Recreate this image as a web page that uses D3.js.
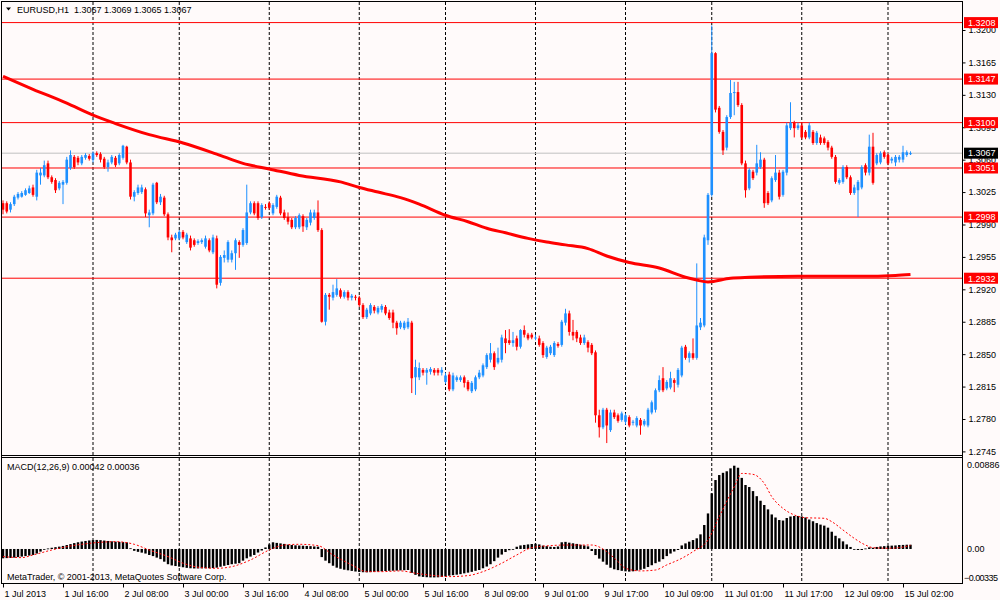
<!DOCTYPE html>
<html>
<head>
    <meta charset="utf-8">
    <title>EURUSD,H1</title>
    <script src="https://d3js.org/d3.v7.min.js"></script>
    <style>
        body { margin: 0; background: #fffafa; }
        svg { display: block; font-family: "Liberation Sans", Arial, sans-serif; }
    </style>
</head>
<body>
<svg id="chart" width="1000" height="600"></svg>

<script>
    // hourly bars, 1 Jul 2013 00:00 .. 15 Jul 2013
    var open = [
        1.3013,1.3013,1.3006,1.3012,1.3019,1.3020,1.3022,1.3024,1.3030,1.3020,
        1.3043,1.3043,1.3056,1.3041,1.3038,1.3029,1.3033,1.3035,1.3051,1.3063,
        1.3062,1.3056,1.3062,1.3064,1.3060,1.3067,1.3066,1.3061,1.3052,1.3057,
        1.3062,1.3056,1.3062,1.3074,1.3057,1.3020,1.3024,1.3025,1.3028,1.3000,
        1.3002,1.3035,1.3014,1.3019,1.3001,1.2976,1.2975,1.2975,1.2982,1.2971,
        1.2975,1.2973,1.2970,1.2971,1.2966,1.2973,1.2960,1.2975,1.2927,1.2954,
        1.2952,1.2952,1.2959,1.2971,1.2968,1.2970,1.3003,1.3013,1.3013,1.2998,
        1.3009,1.3013,1.3002,1.3009,1.3019,1.3003,1.2998,1.2995,1.2987,1.2987,
        1.2999,1.2987,1.2992,1.2997,1.3003,1.2984,1.2885,1.2914,1.2911,1.2914,
        1.2919,1.2912,1.2917,1.2911,1.2912,1.2911,1.2903,1.2890,1.2894,1.2901,
        1.2895,1.2898,1.2901,1.2895,1.2895,1.2884,1.2879,1.2878,1.2879,1.2884,
        1.2825,1.2825,1.2833,1.2830,1.2831,1.2833,1.2833,1.2830,1.2820,1.2828,
        1.2812,1.2822,1.2822,1.2825,1.2820,1.2810,1.2812,1.2825,1.2827,1.2836,
        1.2844,1.2851,1.2841,1.2844,1.2867,1.2865,1.2862,1.2867,1.2858,1.2876,
        1.2871,1.2871,1.2867,1.2867,1.2862,1.2847,1.2851,1.2849,1.2861,1.2860,
        1.2884,1.2894,1.2874,1.2874,1.2868,1.2862,1.2863,1.2860,1.2852,1.2784,
        1.2771,1.2790,1.2768,1.2787,1.2784,1.2779,1.2777,1.2782,1.2776,1.2773,
        1.2779,1.2774,1.2773,1.2787,1.2790,1.2811,1.2824,1.2813,1.2814,1.2822,
        1.2817,1.2827,1.2858,1.2846,1.2851,1.2846,1.2879,1.2881,1.2973,1.3022,
        1.3175,1.3116,1.3090,1.3073,1.3106,1.3132,1.3133,1.3119,1.3056,1.3029,
        1.3047,1.3046,1.3052,1.3060,1.3024,1.3016,1.3038,1.3046,1.3022,1.3046,
        1.3094,1.3100,1.3094,1.3097,1.3090,1.3084,1.3090,1.3078,1.3084,1.3083,
        1.3079,1.3073,1.3063,1.3035,1.3036,1.3052,1.3041,1.3024,1.3027,1.3030,
        1.3054,1.3046,1.3074,1.3056,1.3057,1.3068,1.3065,1.3059,1.3057,1.3060,
        1.3060,1.3065,1.3067
    ];
    var high = [
        1.3016,1.3015,1.3014,1.3022,1.3025,1.3026,1.3029,1.3032,1.3033,1.3049,
        1.3051,1.3059,1.3059,1.3043,1.3040,1.3037,1.3038,1.3063,1.3070,1.3065,
        1.3064,1.3065,1.3067,1.3066,1.3069,1.3069,1.3068,1.3063,1.3060,1.3065,
        1.3064,1.3067,1.3076,1.3075,1.3060,1.3027,1.3033,1.3033,1.3030,1.3006,
        1.3035,1.3036,1.3023,1.3021,1.3003,1.2979,1.2981,1.2984,1.2984,1.2981,
        1.2978,1.2975,1.2974,1.2975,1.2978,1.2975,1.2979,1.2978,1.2957,1.2962,
        1.2973,1.2962,1.2975,1.2973,1.2986,1.3033,1.3015,1.3015,1.3015,1.3013,
        1.3012,1.3015,1.3013,1.3022,1.3021,1.3006,1.3003,1.2997,1.2999,1.3002,
        1.3001,1.2997,1.3006,1.3006,1.3016,1.2986,1.2916,1.2916,1.2925,1.2931,
        1.2921,1.2919,1.2919,1.2915,1.2914,1.2913,1.2905,1.2900,1.2905,1.2903,
        1.2902,1.2904,1.2903,1.2898,1.2898,1.2886,1.2886,1.2886,1.2889,1.2886,
        1.2844,1.2841,1.2835,1.2835,1.2836,1.2835,1.2835,1.2836,1.2830,1.2831,
        1.2830,1.2827,1.2827,1.2827,1.2822,1.2821,1.2827,1.2833,1.2840,1.2851,
        1.2862,1.2853,1.2857,1.2871,1.2876,1.2877,1.2874,1.2870,1.2877,1.2881,
        1.2873,1.2873,1.2871,1.2870,1.2864,1.2859,1.2860,1.2864,1.2863,1.2887,
        1.2899,1.2897,1.2887,1.2876,1.2871,1.2871,1.2865,1.2862,1.2854,1.2790,
        1.2792,1.2792,1.2790,1.2790,1.2786,1.2788,1.2786,1.2784,1.2779,1.2783,
        1.2781,1.2780,1.2792,1.2800,1.2813,1.2827,1.2836,1.2822,1.2831,1.2824,
        1.2835,1.2859,1.2860,1.2853,1.2867,1.2948,1.2889,1.2979,1.3024,1.3205,
        1.3176,1.3118,1.3092,1.3108,1.3146,1.3144,1.3144,1.3121,1.3059,1.3051,
        1.3049,1.3076,1.3068,1.3062,1.3026,1.3042,1.3065,1.3049,1.3049,1.3100,
        1.3122,1.3102,1.3100,1.3100,1.3092,1.3100,1.3092,1.3091,1.3087,1.3085,
        1.3081,1.3075,1.3065,1.3040,1.3054,1.3054,1.3043,1.3033,1.3038,1.3054,
        1.3056,1.3087,1.3089,1.3067,1.3069,1.3070,1.3067,1.3063,1.3065,1.3065,
        1.3075,1.3070,1.3069
    ];
    var low = [
        1.3001,1.3002,1.3003,1.3010,1.3017,1.3019,1.3021,1.3023,1.3020,1.3016,
        1.3033,1.3041,1.3039,1.3034,1.3024,1.3027,1.3012,1.3033,1.3049,1.3050,
        1.3054,1.3054,1.3060,1.3059,1.3057,1.3063,1.3057,1.3050,1.3047,1.3055,
        1.3052,1.3054,1.3060,1.3055,1.3017,1.3015,1.3022,1.3023,1.2998,1.2987,
        1.3000,1.3012,1.3011,1.2999,1.2973,1.2960,1.2973,1.2973,1.2974,1.2969,
        1.2962,1.2966,1.2968,1.2969,1.2964,1.2960,1.2958,1.2921,1.2924,1.2949,
        1.2949,1.2949,1.2941,1.2954,1.2966,1.2968,1.3001,1.3000,1.2995,1.2996,
        1.3006,1.3006,1.3000,1.3007,1.3000,1.2995,1.2990,1.2985,1.2985,1.2985,
        1.2982,1.2984,1.2989,1.2995,1.2982,1.2884,1.2881,1.2898,1.2908,1.2912,
        1.2910,1.2910,1.2908,1.2908,1.2908,1.2901,1.2888,1.2888,1.2892,1.2894,
        1.2893,1.2895,1.2892,1.2887,1.2878,1.2871,1.2877,1.2876,1.2877,1.2808,
        1.2806,1.2822,1.2827,1.2817,1.2828,1.2827,1.2827,1.2827,1.2818,1.2810,
        1.2810,1.2820,1.2820,1.2814,1.2810,1.2808,1.2810,1.2823,1.2825,1.2834,
        1.2841,1.2833,1.2839,1.2841,1.2851,1.2860,1.2858,1.2854,1.2856,1.2868,
        1.2865,1.2866,1.2865,1.2858,1.2846,1.2845,1.2849,1.2847,1.2857,1.2858,
        1.2881,1.2870,1.2865,1.2863,1.2860,1.2860,1.2852,1.2849,1.2776,1.2760,
        1.2769,1.2754,1.2766,1.2780,1.2776,1.2777,1.2774,1.2771,1.2773,1.2771,
        1.2763,1.2772,1.2771,1.2785,1.2787,1.2809,1.2809,1.2811,1.2812,1.2809,
        1.2814,1.2825,1.2844,1.2841,1.2844,1.2844,1.2876,1.2879,1.2968,1.3020,
        1.3111,1.3088,1.3065,1.3070,1.3104,1.3108,1.3117,1.3054,1.3019,1.3027,
        1.3038,1.3043,1.3050,1.3008,1.3011,1.3014,1.3036,1.3017,1.3020,1.3043,
        1.3092,1.3084,1.3092,1.3082,1.3082,1.3082,1.3076,1.3076,1.3076,1.3076,
        1.3070,1.3061,1.3034,1.3033,1.3034,1.3039,1.3022,1.3022,1.2998,1.3028,
        1.3043,1.3043,1.3033,1.3054,1.3055,1.3061,1.3054,1.3056,1.3053,1.3057,
        1.3057,1.3063,1.3065
    ];
    var close = [
        1.3006,1.3004,1.3012,1.3020,1.3023,1.3024,1.3027,1.3029,1.3022,1.3046,
        1.3046,1.3054,1.3041,1.3036,1.3027,1.3035,1.3036,1.3060,1.3065,1.3052,
        1.3057,1.3063,1.3065,1.3061,1.3067,1.3065,1.3060,1.3052,1.3057,1.3063,
        1.3054,1.3065,1.3075,1.3057,1.3020,1.3025,1.3030,1.3030,1.3002,1.3003,
        1.3033,1.3014,1.3020,1.3001,1.2976,1.2973,1.2979,1.2982,1.2976,1.2979,
        1.2965,1.2968,1.2972,1.2973,1.2975,1.2962,1.2976,1.2925,1.2955,1.2957,
        1.2971,1.2959,1.2973,1.2968,1.2984,1.3003,1.3013,1.3002,1.2997,1.3011,
        1.3008,1.3008,1.3011,1.3020,1.3002,1.2997,1.2993,1.2987,1.2997,1.3000,
        1.2988,1.2995,1.3003,1.3003,1.2984,1.2885,1.2914,1.2912,1.2917,1.2921,
        1.2912,1.2917,1.2911,1.2913,1.2911,1.2903,1.2890,1.2898,1.2903,1.2897,
        1.2900,1.2902,1.2894,1.2889,1.2884,1.2878,1.2884,1.2884,1.2885,1.2824,
        1.2836,1.2835,1.2830,1.2833,1.2834,1.2830,1.2830,1.2833,1.2827,1.2812,
        1.2827,1.2825,1.2825,1.2819,1.2812,1.2819,1.2825,1.2830,1.2838,1.2849,
        1.2851,1.2836,1.2846,1.2868,1.2862,1.2862,1.2865,1.2858,1.2876,1.2871,
        1.2867,1.2868,1.2868,1.2860,1.2849,1.2857,1.2858,1.2862,1.2859,1.2885,
        1.2894,1.2874,1.2870,1.2867,1.2862,1.2868,1.2857,1.2851,1.2784,1.2771,
        1.2790,1.2773,1.2787,1.2782,1.2778,1.2786,1.2784,1.2773,1.2777,1.2781,
        1.2773,1.2778,1.2790,1.2798,1.2811,1.2822,1.2811,1.2820,1.2824,1.2819,
        1.2833,1.2857,1.2846,1.2851,1.2846,1.2881,1.2884,1.2976,1.3022,1.3175,
        1.3114,1.3090,1.3070,1.3106,1.3132,1.3133,1.3119,1.3056,1.3027,1.3049,
        1.3040,1.3056,1.3060,1.3013,1.3013,1.3040,1.3046,1.3020,1.3047,1.3097,
        1.3100,1.3094,1.3097,1.3084,1.3084,1.3097,1.3078,1.3089,1.3078,1.3078,
        1.3073,1.3063,1.3036,1.3038,1.3052,1.3041,1.3024,1.3030,1.3036,1.3052,
        1.3046,1.3074,1.3035,1.3065,1.3067,1.3063,1.3056,1.3061,1.3063,1.3063,
        1.3068,1.3068,1.3067
    ];

    // moving average read at some bars: [bar, price]
    var maPoints = [
        [0,1.3150],[8,1.3136],[17,1.3121],[24,1.3108],[30,1.3099],[39,1.3087],
        [48,1.3078],[57,1.3066],[64,1.3056],[71,1.3050],[79,1.3043],[90,1.3036],
        [95,1.3030],[100,1.3025],[106,1.3019],[111,1.3012],[118,1.3000],[124,1.2993],
        [129,1.2986],[134,1.2981],[140,1.2975],[145,1.2971],[150,1.2968],[156,1.2964],
        [161,1.2956],[167,1.2949],[175,1.2943],[182,1.2933],[185,1.2930],[188,1.2928],
        [194,1.2932],[199,1.2933],[212,1.2934],[229,1.2934],[238,1.2935],[242,1.2936]
    ];

    // MACD(12,26,9) main line, one per bar
    var macd = [
        -0.00092,-0.00090,-0.00088,-0.00085,-0.00080,-0.00075,-0.00070,-0.00065,-0.00059,-0.00045,
        -0.00026,-0.00005,0.00005,0.00012,0.00018,0.00023,0.00030,0.00039,0.00048,0.00058,
        0.00066,0.00073,0.00079,0.00084,0.00088,0.00089,0.00087,0.00083,0.00079,0.00075,
        0.00072,0.00070,0.00068,0.00065,0.00007,-0.00018,-0.00028,-0.00036,-0.00045,-0.00059,
        -0.00070,-0.00085,-0.00100,-0.00125,-0.00150,-0.00162,-0.00168,-0.00174,-0.00180,-0.00186,
        -0.00190,-0.00192,-0.00192,-0.00191,-0.00190,-0.00190,-0.00188,-0.00184,-0.00175,-0.00166,
        -0.00158,-0.00150,-0.00145,-0.00140,-0.00115,-0.00092,-0.00075,-0.00059,-0.00035,-0.00015,
        0.00015,0.00045,0.00066,0.00060,0.00055,0.00050,0.00043,0.00039,0.00036,0.00034,
        0.00032,0.00030,0.00028,0.00025,0.00023,-0.00080,-0.00115,-0.00140,-0.00165,-0.00184,
        -0.00195,-0.00204,-0.00210,-0.00216,-0.00222,-0.00226,-0.00229,-0.00230,-0.00228,-0.00225,
        -0.00222,-0.00220,-0.00217,-0.00215,-0.00214,-0.00213,-0.00211,-0.00209,-0.00207,-0.00235,
        -0.00255,-0.00270,-0.00275,-0.00278,-0.00280,-0.00280,-0.00279,-0.00276,-0.00270,-0.00263,
        -0.00258,-0.00253,-0.00248,-0.00240,-0.00233,-0.00225,-0.00215,-0.00207,-0.00190,-0.00173,
        -0.00150,-0.00120,-0.00085,-0.00055,-0.00030,-0.00012,0.00000,0.00022,0.00035,0.00040,
        0.00045,0.00049,0.00052,0.00045,0.00033,0.00028,0.00022,0.00020,0.00025,0.00066,
        0.00070,0.00062,0.00056,0.00050,0.00042,0.00035,0.00026,-0.00020,-0.00060,-0.00095,
        -0.00125,-0.00155,-0.00185,-0.00200,-0.00208,-0.00215,-0.00220,-0.00223,-0.00220,-0.00212,
        -0.00205,-0.00195,-0.00178,-0.00160,-0.00140,-0.00125,-0.00100,-0.00070,-0.00045,-0.00025,
        -0.00010,0.00035,0.00055,0.00072,0.00088,0.00105,0.00144,0.00236,0.00350,0.00548,
        0.00679,0.00728,0.00750,0.00765,0.00794,0.00820,0.00800,0.00700,0.00630,0.00610,
        0.00570,0.00520,0.00475,0.00433,0.00390,0.00340,0.00310,0.00285,0.00280,0.00305,
        0.00320,0.00325,0.00325,0.00320,0.00310,0.00290,0.00273,0.00255,0.00240,0.00230,
        0.00210,0.00170,0.00130,0.00105,0.00075,0.00045,0.00020,-0.00005,-0.00010,-0.00010,
        0.00005,0.00016,0.00012,0.00020,0.00025,0.00028,0.00031,0.00033,0.00035,0.00039,
        0.00040,0.00042,0.00042
    ];

    // signal line read at some bars: [bar, value]
    var signalPoints = [
        [0,-0.00075],[5,-0.00085],[8,-0.00059],[13,-0.00010],[17,0.00023],[21,0.00046],
        [26,0.00066],[30,0.00072],[35,0.00046],[39,-0.00010],[44,-0.00075],[48,-0.00140],
        [53,-0.00184],[57,-0.00190],[61,-0.00174],[66,-0.00108],[71,-0.00010],[75,0.00039],
        [79,0.00046],[84,0.00033],[88,-0.00059],[93,-0.00157],[97,-0.00223],[101,-0.00223],
        [106,-0.00216],[110,-0.00239],[115,-0.00262],[119,-0.00272],[124,-0.00262],[128,-0.00223],
        [133,-0.00140],[137,-0.00059],[141,0.00013],[146,0.00033],[150,0.00039],[157,0.00039],
        [161,-0.00026],[164,-0.00125],[166,-0.00190],[170,-0.00216],[174,-0.00207],[177,-0.00157],
        [181,-0.00092],[184,-0.00026],[188,0.00089],[191,0.00318],[195,0.00613],[197,0.00744],
        [200,0.00735],[203,0.00646],[205,0.00515],[208,0.00400],[211,0.00335],[214,0.00308],
        [219,0.00302],[221,0.00269],[224,0.00187],[227,0.00105],[230,0.00039],[232,0.00013],
        [236,0.00007],[239,0.00013],[242,0.00036]
    ];

    var priceTicks = [1.3200,1.3165,1.3130,1.3095,1.3060,1.3025,1.2990,1.2955,1.2920,
                      1.2885,1.2850,1.2815,1.2780,1.2745];
    var levels = [1.3208, 1.3147, 1.3100, 1.3051, 1.2998, 1.2932];
    var lastPrice = 1.3067;

    var timeBars = [0,16,32,48,64,80,96,112,128,144,160,176,192,208,224,240];
    var timeLabels = ["1 Jul 2013","1 Jul 16:00","2 Jul 08:00","3 Jul 00:00","3 Jul 16:00",
                      "4 Jul 08:00","5 Jul 00:00","5 Jul 16:00","8 Jul 09:00","9 Jul 01:00",
                      "9 Jul 17:00","10 Jul 09:00","11 Jul 01:00","11 Jul 17:00","12 Jul 09:00",
                      "15 Jul 02:00"];
    var gridBars = [24,47,71,95,118,142,166,189,213,236];

    var macdMax = 0.00886, macdMin = -0.00335;

    var svg = d3.select("#chart");
    var left = 2, right = 963, mainTop = 2, mainBottom = 455, macdTop = 458, macdBottom = 583;
    var bull = "#1e90ff", bear = "#ff0000";

    var x = d3.scaleLinear().domain([0, 242]).range([3, 910.5]);
    var y = d3.scaleLinear().domain([1.2745, 1.3200]).range([451.4, 30]);
    var ym = d3.scaleLinear().domain([macdMin, macdMax]).range([macdBottom, macdTop + 1]);

    svg.append("rect").attr("width", 1000).attr("height", 600).attr("fill", "#fffafa");

    var defs = svg.append("defs");
    defs.append("clipPath").attr("id", "clipMain").append("rect")
        .attr("x", left).attr("y", mainTop).attr("width", right - left).attr("height", mainBottom - mainTop);
    defs.append("clipPath").attr("id", "clipMacd").append("rect")
        .attr("x", left).attr("y", macdTop).attr("width", right - left).attr("height", macdBottom - macdTop);

    // vertical dotted grid in both windows
    var grid = svg.append("g").attr("stroke", "#000").attr("stroke-dasharray", "3,2");
    [[mainTop, mainBottom], [macdTop, macdBottom]].forEach(function(r) {
        grid.selectAll(null).data(gridBars).enter().append("line")
            .attr("x1", function(d) { return x(d); }).attr("x2", function(d) { return x(d); })
            .attr("y1", r[0]).attr("y2", r[1]);
    });

    var main = svg.append("g").attr("clip-path", "url(#clipMain)");

    // level lines and current price line
    main.append("line").attr("x1", left).attr("x2", right)
        .attr("y1", y(lastPrice)).attr("y2", y(lastPrice)).attr("stroke", "#c0c0c0");
    main.selectAll("line.level").data(levels).enter().append("line")
        .attr("class", "level")
        .attr("x1", left).attr("x2", right)
        .attr("y1", function(d) { return y(d); }).attr("y2", function(d) { return y(d); })
        .attr("stroke", "#ff0000");

    // candles
    var bars = d3.range(close.length);
    var isUp = function(i) { return close[i] >= open[i]; };
    main.append("g").selectAll("line").data(bars).enter().append("line")
        .attr("x1", function(i) { return x(i); }).attr("x2", function(i) { return x(i); })
        .attr("y1", function(i) { return y(high[i]); }).attr("y2", function(i) { return y(low[i]); })
        .attr("stroke", function(i) { return isUp(i) ? bull : bear; })
        .attr("stroke-width", 1);
    main.append("g").selectAll("rect").data(bars).enter().append("rect")
        .attr("x", function(i) { return x(i) - 1.3; })
        .attr("width", 2.6)
        .attr("y", function(i) { return y(Math.max(open[i], close[i])); })
        .attr("height", function(i) { return Math.max(1, Math.abs(y(open[i]) - y(close[i]))); })
        .attr("fill", function(i) { return isUp(i) ? bull : bear; });

    // moving average
    main.append("path")
        .datum(maPoints)
        .attr("d", d3.line().x(function(d) { return x(d[0]); }).y(function(d) { return y(d[1]); })
            .curve(d3.curveMonotoneX))
        .attr("fill", "none").attr("stroke", "#ff0000").attr("stroke-width", 3);

    // MACD window
    var sub = svg.append("g").attr("clip-path", "url(#clipMacd)");
    sub.append("g").selectAll("rect").data(bars).enter().append("rect")
        .attr("x", function(i) { return x(i) - 1.2; })
        .attr("width", 2.4)
        .attr("y", function(i) { return Math.min(ym(0), ym(macd[i])); })
        .attr("height", function(i) { return Math.max(0.8, Math.abs(ym(macd[i]) - ym(0))); })
        .attr("fill", "#000");
    sub.append("path")
        .datum(signalPoints)
        .attr("d", d3.line().x(function(d) { return x(d[0]); }).y(function(d) { return ym(d[1]); })
            .curve(d3.curveMonotoneX))
        .attr("fill", "none").attr("stroke", "#ff0000").attr("stroke-width", 1)
        .attr("stroke-dasharray", "2,2");

    // window frames
    var frame = svg.append("g").attr("stroke", "#000").attr("fill", "none");
    frame.append("line").attr("x1", 1.5).attr("x2", 1.5).attr("y1", 1).attr("y2", 584);
    frame.append("line").attr("x1", right - 0.5).attr("x2", right - 0.5).attr("y1", 1).attr("y2", 584);
    frame.append("line").attr("x1", 1).attr("x2", right).attr("y1", 1.5).attr("y2", 1.5);
    frame.append("line").attr("x1", 1).attr("x2", right).attr("y1", mainBottom + 0.5).attr("y2", mainBottom + 0.5);
    frame.append("line").attr("x1", 1).attr("x2", right).attr("y1", macdTop - 0.5).attr("y2", macdTop - 0.5);
    frame.append("line").attr("x1", 1).attr("x2", right).attr("y1", macdBottom + 0.5).attr("y2", macdBottom + 0.5);

    // price axis
    var yAxis = d3.axisRight(y).tickValues(priceTicks).tickSize(3).tickFormat(d3.format(".4f"));
    svg.append("g").attr("transform", "translate(" + (right - 0.5) + ",0)")
        .call(yAxis)
        .call(function(g) {
            g.select(".domain").remove();
            g.attr("font-family", null).attr("font-size", 9);
            g.selectAll("text").attr("fill", "#000");
        });

    // price boxes
    var boxes = svg.append("g").attr("font-size", 9);
    function priceBox(v, color) {
        boxes.append("rect").attr("x", 964).attr("y", y(v) - 5.5).attr("width", 34).attr("height", 11)
            .attr("fill", color);
        boxes.append("text").attr("x", 968).attr("y", y(v) + 3.3).attr("fill", "#fff")
            .text(d3.format(".4f")(v));
    }
    levels.forEach(function(v) { priceBox(v, "#ff0000"); });
    priceBox(lastPrice, "#000");

    // MACD axis labels
    var macdAxis = svg.append("g").attr("font-size", 9).attr("fill", "#000");
    macdAxis.append("text").attr("x", 967).attr("y", ym(macdMax) + 9).text(d3.format(".5f")(macdMax));
    macdAxis.append("text").attr("x", 967).attr("y", ym(0) + 3).text("0.00");
    macdAxis.append("text").attr("x", 964).attr("y", ym(macdMin) - 2).attr("textLength", 34)
        .text(d3.format(".5f")(macdMin));

    // time axis
    var xAxis = d3.axisBottom(x).tickValues(timeBars).tickSize(4)
        .tickFormat(function(d, i) { return timeLabels[i]; });
    svg.append("g").attr("transform", "translate(0," + (macdBottom + 0.5) + ")")
        .call(xAxis)
        .call(function(g) {
            g.select(".domain").remove();
            g.attr("font-family", null).attr("font-size", 9);
            g.selectAll("text").attr("text-anchor", "start").attr("dx", 1).attr("fill", "#000");
        });

    // window captions
    svg.append("path").attr("d", "M6,7.5 L11,7.5 L8.5,10.5 Z").attr("fill", "#000");
    svg.append("text").attr("x", 17).attr("y", 12.5).attr("font-size", 9)
        .attr("xml:space", "preserve").style("white-space", "pre")
        .text("EURUSD,H1  " + d3.format(".4f")(open[242]) + " " + d3.format(".4f")(high[242]) + " " +
              d3.format(".4f")(low[242]) + " " + d3.format(".4f")(close[242]));
    svg.append("text").attr("x", 7).attr("y", 470).attr("font-size", 9)
        .text("MACD(12,26,9) " + d3.format(".5f")(macd[242]) + " " + d3.format(".5f")(signalPoints[signalPoints.length - 1][1]));
    svg.append("text").attr("x", 7).attr("y", 580).attr("font-size", 9)
        .text("MetaTrader, \u00a9 2001-2013, MetaQuotes Software Corp.");
</script>
</body>
</html>
